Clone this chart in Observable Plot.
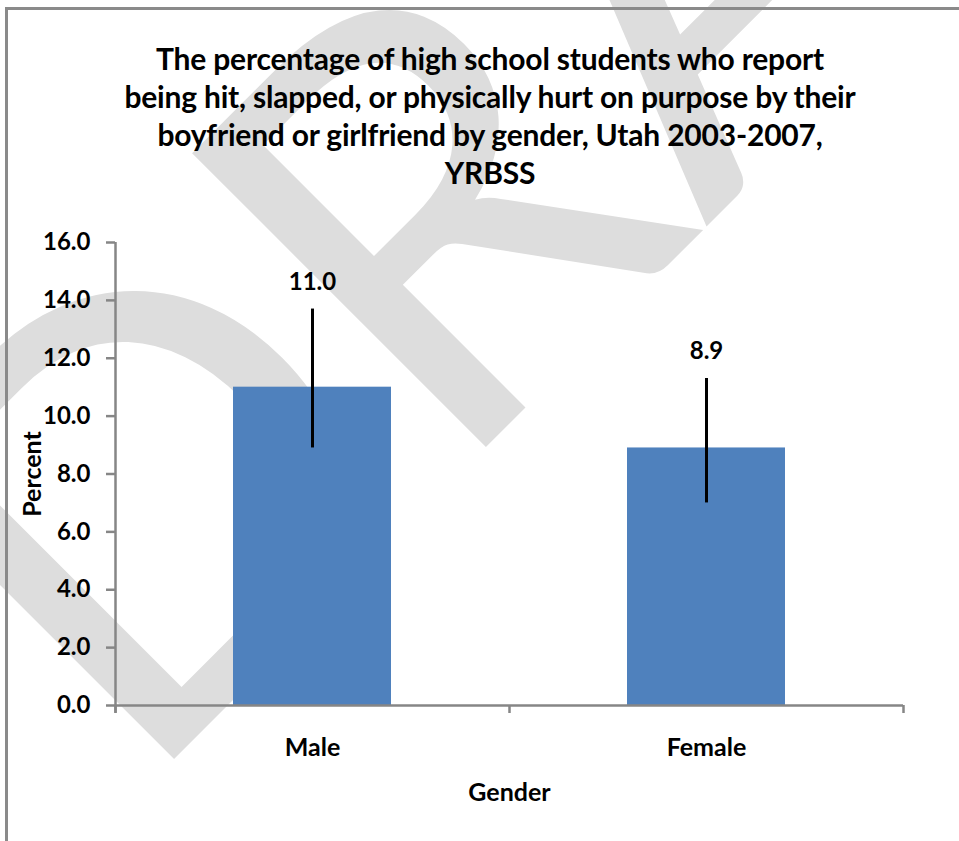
<!DOCTYPE html>
<html>
<head>
<meta charset="utf-8">
<script src="https://cdn.jsdelivr.net/npm/d3@7"></script>
<script src="https://cdn.jsdelivr.net/npm/@observablehq/plot@0.6"></script>
<style>
  html, body { margin: 0; padding: 0; background: #fff; overflow: hidden; }
  #wrap { position: relative; width: 959px; height: 841px; overflow: hidden; font-family: Lato, "Open Sans", sans-serif; }
  #chart { position: absolute; left: 0; top: 0; }
  #title { position: absolute; left: 20px; top: 39px; width: 940px; text-align: center;
           font-weight: bold; font-size: 30px; line-height: 38px; color: #000; letter-spacing: -0.2px; }
  #frame { position: absolute; left: 5px; top: 7px; width: 1100px; height: 1000px;
           border-top: 3px solid #8a8a8a; border-left: 3px solid #8a8a8a; pointer-events: none; }
</style>
</head>
<body>
<div id="wrap">
  <div id="chart"></div>
  <div id="title">The percentage of high school students who report<br>being hit, slapped, or physically hurt on purpose by their<br>boyfriend or girlfriend by gender, Utah 2003-2007,<br>YRBSS</div>
  <div id="frame"></div>
</div>
<script>
const categories = ["Male", "Female"];
const values = [11.0, 8.9];
const errLow = [8.9, 7.0];
const errHigh = [13.7, 11.3];
const yTicks = [0, 2, 4, 6, 8, 10, 12, 14, 16];
const xLabel = "Gender";
const yLabel = "Percent";
const watermark = "DRAFT";

const data = categories.map((c, i) => ({cat: c, i, value: values[i], lo: errLow[i], hi: errHigh[i]}));

const chart = Plot.plot({
  width: 959,
  height: 841,
  marginTop: 242,
  marginBottom: 136,
  marginLeft: 115,
  marginRight: 56,
  style: {fontFamily: "Lato, 'Open Sans', sans-serif", color: "black", background: "transparent", overflow: "visible"},
  x: {domain: [0, 2]},
  y: {domain: [0, 16]},
  marks: [
    Plot.text([watermark], {frameAnchor: "top-left", dx: 21, dy: 554, rotate: -45, textAnchor: "start",
      lineAnchor: "bottom", fontSize: 580, fill: "#dddddd", text: d => d}),
    Plot.rect(data, {x1: "i", x2: d => d.i + 1, y1: 0, y2: "value", insetLeft: 118, insetRight: 118, fill: "#4f81bd"}),
    Plot.ruleX(data, {x: d => d.i + 0.5, y1: "lo", y2: "hi", stroke: "black", strokeWidth: 3}),
    Plot.text(data, {x: d => d.i + 0.5, y: "hi", dy: -27, text: d => d.value.toFixed(1),
      fontSize: 24, fontWeight: "bold", fill: "black"}),
    Plot.ruleY([0], {stroke: "#868686", strokeWidth: 2.5}),
    Plot.ruleX([0], {y1: 16, y2: -0.27, stroke: "#868686", strokeWidth: 2.5}),
    Plot.axisY({ticks: yTicks, tickFormat: d => d.toFixed(1), tickSize: 9, tickPadding: 16,
      fontSize: 24, fontWeight: "bold", stroke: "#868686", strokeWidth: 2.5, label: null}),
    Plot.axisX({ticks: [0, 1, 2], tickSize: 8, tickFormat: () => "", stroke: "#868686", strokeWidth: 2.5, label: null}),
    Plot.text(data, {x: d => d.i + 0.5, y: 0, dy: 42, text: "cat", fontSize: 25, fontWeight: "bold", fill: "black"}),
    Plot.text([yLabel], {frameAnchor: "left", dx: -83, rotate: -90, textAnchor: "middle", text: d => d,
      fontSize: 25, fontWeight: "bold", fill: "black"}),
    Plot.text([xLabel], {frameAnchor: "bottom", dy: 95, text: d => d, fontSize: 25, fontWeight: "bold", fill: "black"})
  ]
});
document.getElementById("chart").appendChild(chart);
</script>
</body>
</html>
